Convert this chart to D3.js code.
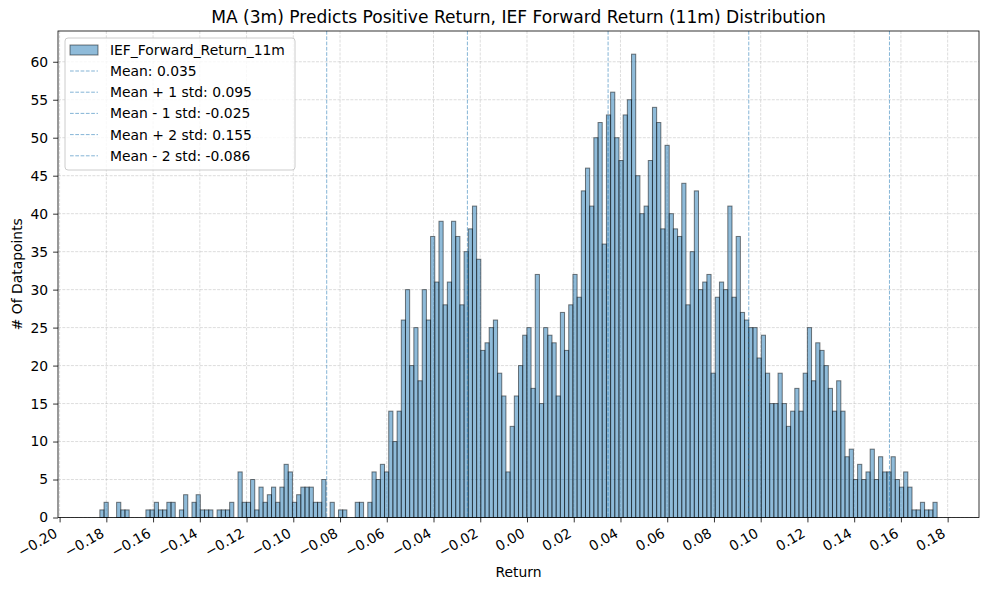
<!DOCTYPE html>
<html><head><meta charset="utf-8">
<script src="https://cdn.jsdelivr.net/npm/d3@7"></script>
<style>body{margin:0;background:#fff}svg{display:block;font-family:"DejaVu Sans",sans-serif}</style>
</head><body><svg id="c" width="989" height="590"></svg>
<script>
const title = "MA (3m) Predicts Positive Return, IEF Forward Return (11m) Distribution";
const seriesName = "IEF_Forward_Return_11m";
const binMin = -0.18277, binMax = 0.17550;
const counts = [1,2,0,0,2,1,1,0,0,0, 0,1,1,2,1,1,2,2,0,1, 3,0,2,3,1,1,1,0,1,1,
 1,2,0,6,2,2,5,1,4,2, 3,4,2,4,7,6,2,3,4,4, 4,2,2,5,0,2,0,1,1,0,
 0,2,2,0,2,6,5,7,6,14, 10,14,26,30,20,25,18,30,26,37, 31,39,28,31,39,37,28,35,38,41,
 34,22,23,25,26,19,16,6,12,16, 20,24,25,17,32,15,25,24,23,16, 27,22,28,32,29,43,46,41,50,52,
 36,53,56,50,47,53,55,61,45,40, 41,47,54,52,38,49,40,38,37,44, 28,35,43,30,31,32,19,29,31,30,
 41,29,37,27,26,25,25,21,24,19, 15,15,19,15,12,14,17,14,19,25, 18,23,22,20,17,14,18,14,8,9,
 5,7,5,6,9,5,8,6,6,8, 5,4,6,4,1,1,2,1,1,2];
const statLines = [0.0347, 0.0949, -0.0255, 0.1551, -0.0857];
const statLabels = ["Mean: 0.035","Mean + 1 std: 0.095","Mean - 1 std: -0.025","Mean + 2 std: 0.155","Mean - 2 std: -0.086"];
const xTicks = [-0.20,-0.18,-0.16,-0.14,-0.12,-0.10,-0.08,-0.06,-0.04,-0.02,0.00,0.02,0.04,0.06,0.08,0.10,0.12,0.14,0.16,0.18];
const yTicks = [0,5,10,15,20,25,30,35,40,45,50,55,60];
const xLabel = "Return", yLabel = "# Of Datapoints";

const L=58, R=979, T=31, B=517.5;
const svg = d3.select("#c");
const bw = (binMax-binMin)/counts.length;
const bins = counts.map((c,i)=>({x0:binMin+i*bw, x1:binMin+(i+1)*bw, c}));
const pad = (binMax-binMin)*0.05;
const x = d3.scaleLinear().domain([binMin-pad, binMax+pad]).range([L,R]);
const y = d3.scaleLinear().domain([0, d3.max(counts)*1.05]).range([B,T]);
const fmt = v => d3.format(".2f")(v).replace("-", "\u2212");

// grid
const g = svg.append("g");
g.selectAll(".gx").data(xTicks).join("line").attr("x1",d=>x(d)).attr("x2",d=>x(d)).attr("y1",T).attr("y2",B)
 .attr("stroke","#b0b0b0").attr("stroke-opacity",0.55).attr("stroke-width",0.8).attr("stroke-dasharray","3,1.3");
g.selectAll(".gy").data(yTicks).join("line").attr("y1",d=>y(d)).attr("y2",d=>y(d)).attr("x1",L).attr("x2",R)
 .attr("stroke","#b0b0b0").attr("stroke-opacity",0.55).attr("stroke-width",0.8).attr("stroke-dasharray","3,1.3");

// bars
svg.append("g").selectAll("rect").data(bins.filter(b=>b.c>0)).join("rect")
 .attr("x",d=>x(d.x0)).attr("width",d=>x(d.x1)-x(d.x0)).attr("y",d=>y(d.c)).attr("height",d=>y(0)-y(d.c))
 .attr("fill","#1f77b4").attr("fill-opacity",0.5).attr("stroke","#000").attr("stroke-opacity",0.5).attr("stroke-width",1);

// stat lines
svg.append("g").selectAll("line").data(statLines).join("line")
 .attr("x1",d=>x(d)).attr("x2",d=>x(d)).attr("y1",T).attr("y2",B)
 .attr("stroke","#1f77b4").attr("stroke-opacity",0.55).attr("stroke-width",1).attr("stroke-dasharray","3.7,1.6");

// frame
svg.append("rect").attr("x",L).attr("y",T).attr("width",R-L).attr("height",B-T).attr("fill","none").attr("stroke","#000").attr("stroke-width",0.8);

// x axis
const xa = svg.append("g").attr("transform",`translate(0,${B})`);
xa.call(d3.axisBottom(x).tickValues(xTicks).tickSize(4.9).tickFormat(fmt));
xa.select(".domain").remove();
xa.selectAll(".tick line").attr("stroke","#000").attr("stroke-width",0.8);
xa.selectAll(".tick text").attr("font-size","13.9px").attr("fill","#000").attr("font-family","DejaVu Sans")
 .attr("text-anchor","end").attr("y",0).attr("dy",0).attr("transform","translate(-1.7,18.5) rotate(-30)");

// y axis
const ya = svg.append("g").attr("transform",`translate(${L},0)`);
ya.call(d3.axisLeft(y).tickValues(yTicks).tickSize(4.9).tickPadding(4.9));
ya.select(".domain").remove();
ya.selectAll(".tick line").attr("stroke","#000").attr("stroke-width",0.8);
ya.selectAll(".tick text").attr("font-size","13.9px").attr("fill","#000").attr("font-family","DejaVu Sans");

// labels
svg.append("text").attr("x",(L+R)/2).attr("y",23).attr("text-anchor","middle").attr("font-size","17.1px").text(title);
svg.append("text").attr("x",(L+R)/2).attr("y",577).attr("text-anchor","middle").attr("font-size","13.9px").text(xLabel);
svg.append("text").attr("transform",`translate(22,${(T+B)/2}) rotate(-90)`).attr("text-anchor","middle").attr("font-size","13.9px").text(yLabel);

// legend
const lg = svg.append("g");
lg.append("rect").attr("x",65).attr("y",38).attr("width",230).attr("height",132).attr("rx",3)
 .attr("fill","#fff").attr("fill-opacity",0.8).attr("stroke","#cccccc").attr("stroke-width",1);
lg.append("rect").attr("x",70).attr("y",45).attr("width",28).attr("height",10)
 .attr("fill","#1f77b4").attr("fill-opacity",0.5).attr("stroke","#000").attr("stroke-opacity",0.5);
lg.append("text").attr("x",110).attr("y",55).attr("font-size","13.9px").text(seriesName);
statLabels.forEach((s,i)=>{
  const yy = 71 + i*21.2;
  lg.append("line").attr("x1",70).attr("x2",98).attr("y1",yy).attr("y2",yy)
   .attr("stroke","#1f77b4").attr("stroke-opacity",0.55).attr("stroke-width",1).attr("stroke-dasharray","3.7,1.6");
  lg.append("text").attr("x",110).attr("y",yy+5).attr("font-size","13.9px").text(s);
});
</script></body></html>
